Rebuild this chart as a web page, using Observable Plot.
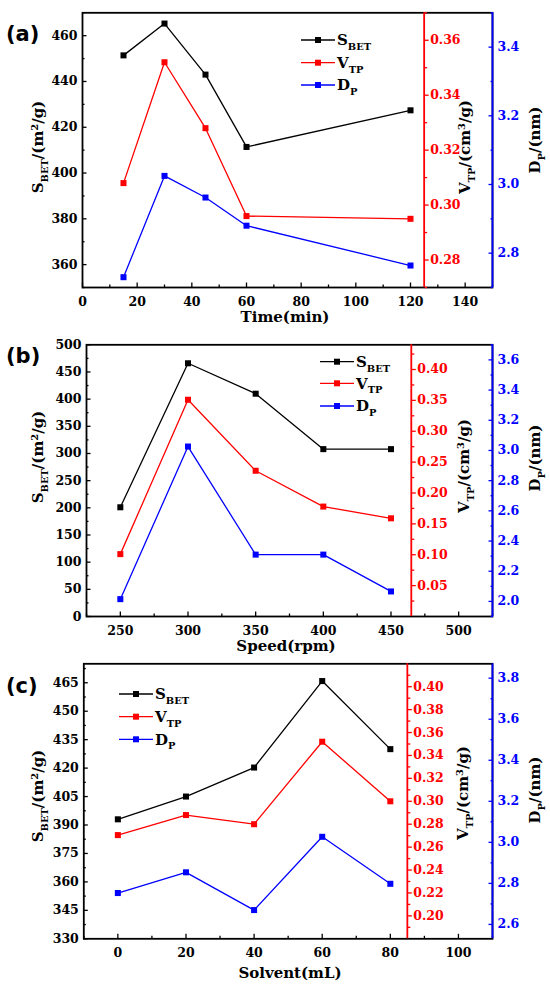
<!DOCTYPE html>
<html><head><meta charset="utf-8">
<script src="https://cdn.jsdelivr.net/npm/d3@7"></script>
<script src="https://cdn.jsdelivr.net/npm/@observablehq/plot@0.6"></script>
<style>
body{margin:0;background:#fff;}
#root{position:relative;width:550px;height:988px;overflow:hidden;background:#fff;}
#root svg{position:absolute;left:0;}
</style></head><body><div id="root"></div>
<script>
// ---------- data ----------
const timeX = [15, 30, 45, 60, 120];
const timeSBET = [451.4, 465.3, 443, 411.4, 427.4];
const timeVTP = [0.308, 0.352, 0.328, 0.296, 0.295];
const timeDP = [2.73, 3.025, 2.962, 2.88, 2.764];

const speedX = [250, 300, 350, 400, 450];
const speedSBET = [201, 466, 410, 308, 308];
const speedVTP = [0.101, 0.351, 0.236, 0.178, 0.159];
const speedDP = [2.015, 3.026, 2.31, 2.31, 2.066];

const solventX = [0, 20, 40, 60, 80];
const solventSBET = [393, 405, 420.3, 465.9, 430];
const solventVTP = [0.2705, 0.288, 0.28, 0.352, 0.30];
const solventDP = [2.753, 2.854, 2.67, 3.027, 2.798];

// ---------- tick labels ----------
const timeXTicks = [0, 20, 40, 60, 80, 100, 120, 140];
const timeSBETTicks = [360, 380, 400, 420, 440, 460];
const timeVTPTicks = [0.28, 0.30, 0.32, 0.34, 0.36];
const timeDPTicks = [2.8, 3.0, 3.2, 3.4];

const speedXTicks = [250, 300, 350, 400, 450, 500];
const speedSBETTicks = [0, 50, 100, 150, 200, 250, 300, 350, 400, 450, 500];
const speedVTPTicks = [0.05, 0.10, 0.15, 0.20, 0.25, 0.30, 0.35, 0.40];
const speedDPTicks = [2.0, 2.2, 2.4, 2.6, 2.8, 3.0, 3.2, 3.4, 3.6];

const solventXTicks = [0, 20, 40, 60, 80, 100];
const solventSBETTicks = [330, 345, 360, 375, 390, 405, 420, 435, 450, 465];
const solventVTPTicks = [0.20, 0.22, 0.24, 0.26, 0.28, 0.30, 0.32, 0.34, 0.36, 0.38, 0.40];
const solventDPTicks = [2.6, 2.8, 3.0, 3.2, 3.4, 3.6, 3.8];

const xLabels = ["Time(min)", "Speed(rpm)", "Solvent(mL)"];
const panelLabels = ["(a)", "(b)", "(c)"];

// ---------- layout ----------
const W = 550, RIGHT = 492;
const panels = [
  {x: timeX, s: timeSBET, v: timeVTP, d: timeDP, xt: timeXTicks, st: timeSBETTicks, vt: timeVTPTicks, dt: timeDPTicks,
   top: 0, height: 320, ft: 12.3, fb: 287, left: 82, xDomain: [0, 150], redAt: 125,
   sDomain: [350, 470], vDomain: [0.27, 0.37], dDomain: [2.7, 3.5],
   yS: [38, 147], yV: [465, 147], yD: [535, 140], xT: [285, 316.5], lab: 33, legX: 336, legY: [40, 62.7, 85]},
  {x: speedX, s: speedSBET, v: speedVTP, d: speedDP, xt: speedXTicks, st: speedSBETTicks, vt: speedVTPTicks, dt: speedDPTicks,
   top: 320, height: 333, ft: 344.3, fb: 616, left: 86, xDomain: [225, 525], redAt: 465,
   sDomain: [0, 500], vDomain: [0, 0.44], dDomain: [1.9, 3.7],
   yS: [38, 457], yV: [464, 466], yD: [535, 458], xT: [286, 646], lab: 355, legX: 355, legY: [361.7, 383.3, 406]},
  {x: solventX, s: solventSBET, v: solventVTP, d: solventDP, xt: solventXTicks, st: solventSBETTicks, vt: solventVTPTicks, dt: solventDPTicks,
   top: 653, height: 335, ft: 663.3, fb: 938.3, left: 83.3, xDomain: [-10, 110], redAt: 85,
   sDomain: [330, 475], vDomain: [0.18, 0.42], dDomain: [2.53, 3.87],
   yS: [38, 796], yV: [463, 793], yD: [535, 790], xT: [290, 973], lab: 685, legX: 154, legY: [694, 716.7, 739.3]}
];

const RED = "#ff0000", BLUE = "#0000ff";
const FONT = "'DejaVu Serif', serif";

function minor(ticks, domain) {
  const step = ticks[1] - ticks[0];
  const out = [];
  for (let i = -1; i < ticks.length; i++) {
    const m = ticks[0] + (i + 0.5) * step;
    if (m >= domain[0] - 1e-9 && m <= domain[1] + 1e-9) out.push(m);
  }
  return out;
}

const root = document.getElementById("root");
const baseStyle = c => ({fontFamily: FONT, fontSize: "12.5px", fontWeight: "bold", background: "none", overflow: "visible", color: c});

panels.forEach((p, k) => {
  const H = p.height, mt = p.ft - p.top, mb = p.top + H - p.fb, ml = p.left, mr = W - RIGHT;
  const rows = (ys) => p.x.map((x, i) => ({x, y: ys[i]}));
  const rs = rows(p.s), rv = rows(p.v), rd = rows(p.d);

  const black = Plot.plot({
    width: W, height: H, marginLeft: ml, marginRight: mr, marginTop: mt, marginBottom: mb,
    style: baseStyle("black"),
    x: {domain: p.xDomain, label: null}, y: {domain: p.sDomain, label: null},
    marks: [
      Plot.frame({stroke: "black", strokeWidth: 1.8}),
      Plot.axisX(p.xt, {tickSize: -4.5, tickPadding: 13.8, label: null, strokeWidth: 1.3}),
      Plot.axisX(minor(p.xt, p.xDomain), {tickSize: -2.5, tickFormat: () => "", label: null, strokeWidth: 1.3}),
      Plot.axisY(p.st, {anchor: "left", tickSize: -4.5, tickPadding: 9.5, label: null, strokeWidth: 1.3}),
      Plot.axisY(minor(p.st, p.sDomain), {anchor: "left", tickSize: -2.5, tickFormat: () => "", label: null, strokeWidth: 1.3}),
      Plot.line(rs, {x: "x", y: "y", stroke: "black", strokeWidth: 1.3}),
      Plot.dot(rs, {x: "x", y: "y", symbol: "square", r: 3.4, fill: "black"})
    ]
  });

  const redPx = ml + (p.redAt - p.xDomain[0]) / (p.xDomain[1] - p.xDomain[0]) * (RIGHT - ml);
  const red = Plot.plot({
    width: redPx + 60, height: H, marginLeft: ml, marginRight: 60, marginTop: mt, marginBottom: mb,
    style: baseStyle(RED),
    x: {domain: [p.xDomain[0], p.redAt], axis: null}, y: {domain: p.vDomain, label: null},
    marks: [
      Plot.ruleX([p.redAt], {stroke: RED, strokeWidth: 1.8}),
      Plot.axisY(p.vt, {anchor: "right", tickSize: 4, tickPadding: 2, tickFormat: d3.format(".2f"), label: null, strokeWidth: 1.3}),
      Plot.axisY(minor(p.vt, p.vDomain), {anchor: "right", tickSize: 2.5, tickFormat: () => "", label: null, strokeWidth: 1.3}),
      Plot.line(rv, {x: "x", y: "y", stroke: RED, strokeWidth: 1.3}),
      Plot.dot(rv, {x: "x", y: "y", symbol: "square", r: 3.4, fill: RED})
    ]
  });

  const blue = Plot.plot({
    width: W, height: H, marginLeft: ml, marginRight: mr, marginTop: mt, marginBottom: mb,
    style: baseStyle(BLUE),
    x: {domain: p.xDomain, axis: null}, y: {domain: p.dDomain, label: null},
    marks: [
      Plot.ruleX([p.xDomain[1]], {stroke: BLUE, strokeWidth: 1.8}),
      Plot.axisY(p.dt, {anchor: "right", tickSize: -4.5, tickPadding: 9.5, tickFormat: d3.format(".1f"), label: null, strokeWidth: 1.3}),
      Plot.axisY(minor(p.dt, p.dDomain), {anchor: "right", tickSize: -2.5, tickFormat: () => "", label: null, strokeWidth: 1.3}),
      Plot.line(rd, {x: "x", y: "y", stroke: BLUE, strokeWidth: 1.3}),
      Plot.dot(rd, {x: "x", y: "y", symbol: "square", r: 3.4, fill: BLUE})
    ]
  });

  [black, red, blue].forEach(s => { s.style.top = p.top + "px"; root.appendChild(s); });
});

// ---------- annotations (titles, legends, panel labels) ----------
const ann = d3.select(root).append("svg").attr("width", W).attr("height", 988).style("top", "0px")
  .attr("font-family", FONT).attr("font-weight", "bold");

function rich(text, parts, fs) {
  let shift = 0;
  parts.forEach(([t, kind]) => {
    const target = kind === "sub" ? fs * 0.3 : kind === "sup" ? -fs * 0.38 : 0;
    const ts = text.append("tspan").text(t).attr("dy", target - shift);
    if (kind) ts.attr("font-size", fs * 0.66);
    shift = target;
  });
}
function vtitle(cx, cy, parts, fs) {
  const t = ann.append("text").attr("transform", `translate(${cx},${cy}) rotate(-90)`)
    .attr("y", fs * 0.36).attr("text-anchor", "middle").attr("font-size", fs).attr("fill", "black");
  rich(t, parts, fs);
}

const sParts = [["S"], ["BET", "sub"], ["/(m"], ["2", "sup"], ["/g)"]];
const vParts = [["V"], ["TP", "sub"], ["/(cm"], ["3", "sup"], ["/g)"]];
const dParts = [["D"], ["P", "sub"], ["/(nm)"]];
const legendItems = [
  {color: "black", parts: [["S"], ["BET", "sub"]]},
  {color: RED, parts: [["V"], ["TP", "sub"]]},
  {color: BLUE, parts: [["D"], ["P", "sub"]]}
];

panels.forEach((p, k) => {
  vtitle(p.yS[0], p.yS[1], sParts, 15);
  vtitle(p.yV[0], p.yV[1], vParts, 15);
  vtitle(p.yD[0], p.yD[1], dParts, 15);
  ann.append("text").attr("x", p.xT[0]).attr("y", p.xT[1] + 15 * 0.36).attr("text-anchor", "middle")
    .attr("font-size", 15).text(xLabels[k]);
  ann.append("text").attr("x", 6).attr("y", p.lab + 21 * 0.36).attr("font-family", "'DejaVu Sans', sans-serif")
    .attr("font-size", 21).attr("font-weight", "bold").text(panelLabels[k]);
  legendItems.forEach((it, i) => {
    const y = p.legY[i], x = p.legX;
    ann.append("line").attr("x1", x - 35).attr("x2", x - 1).attr("y1", y).attr("y2", y)
      .attr("stroke", it.color).attr("stroke-width", 1.3);
    ann.append("rect").attr("x", x - 18 - 3).attr("y", y - 3).attr("width", 6).attr("height", 6).attr("fill", it.color);
    const t = ann.append("text").attr("x", x + 1).attr("y", y + 15 * 0.36).attr("font-size", 15).attr("fill", "black");
    rich(t, it.parts, 15);
  });
});
</script></body></html>
